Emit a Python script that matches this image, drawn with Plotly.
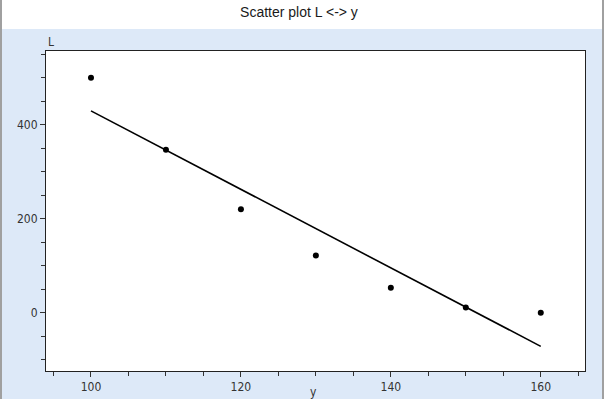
import numpy as np
import plotly.graph_objects as go

# Data
y_values = [100, 110, 120, 130, 140, 150, 160]
L_values = [500, 347, 220, 122, 53, 11, 0]

title_text = "Scatter plot L <-> y"
x_label = "y"
y_label = "L"
x_tickvals = [100, 120, 140, 160]
y_tickvals = [0, 200, 400]

# Least-squares regression line (as drawn in the chart)
slope, intercept = np.polyfit(y_values, L_values, 1)
fit_x = [min(y_values), max(y_values)]
fit_y = [slope * v + intercept for v in fit_x]

W, H = 604, 399
ml, mr, mt, mb = 46, 19, 51, 28
plot_h = H - mt - mb

fig = go.Figure()
fig.add_trace(go.Scatter(x=fit_x, y=fit_y, mode="lines",
                         line=dict(color="black", width=1.6),
                         hoverinfo="skip", showlegend=False))
fig.add_trace(go.Scatter(x=y_values, y=L_values, mode="markers",
                         marker=dict(color="black", size=6),
                         showlegend=False))

tickfont = dict(family="Liberation Sans Narrow, DejaVu Sans Condensed, Arial", size=12, color="#333333")

fig.update_layout(
    width=W, height=H,
    margin=dict(l=ml, r=mr, t=mt, b=mb, pad=0, autoexpand=False),
    paper_bgcolor="#dde9f8",
    plot_bgcolor="white",
    title=dict(text=title_text, x=0.495, xanchor="center", y=1 - 12 / H, yanchor="middle",
               font=dict(family="Liberation Sans, Arial", size=14, color="#1a1a1a")),
    xaxis=dict(range=[94.0, 165.9], tickvals=x_tickvals, ticks="outside", ticklen=5,
               tickcolor="#333333", showgrid=False, zeroline=False, automargin=False,
               showline=True, linecolor="#222222", linewidth=1, mirror=True,
               tickfont=tickfont,
               minor=dict(dtick=5, tick0=0, ticks="outside", ticklen=4, tickcolor="#333333")),
    yaxis=dict(range=[-124, 557], tickvals=y_tickvals, ticks="outside", ticklen=5,
               tickcolor="#333333", showgrid=False, zeroline=False, automargin=False,
               showline=True, linecolor="#222222", linewidth=1, mirror=True,
               tickfont=tickfont,
               minor=dict(dtick=50, tick0=0, ticks="outside", ticklen=4, tickcolor="#333333")),
    shapes=[
        dict(type="rect", xref="paper", yref="paper",
             x0=-ml / (W - ml - mr), x1=1 + mr / (W - ml - mr),
             y0=1 + (mt - 29) / plot_h, y1=1 + mt / plot_h + 0.01,
             fillcolor="white", line=dict(width=0), layer="below"),
        dict(type="line", xref="paper", yref="paper",
             x0=-(ml - 1) / (W - ml - mr), x1=-(ml - 1) / (W - ml - mr),
             y0=-mb / plot_h, y1=1 + mt / plot_h,
             line=dict(color="#a0a0a0", width=2)),
        dict(type="line", xref="paper", yref="paper",
             x0=1 + (mr - 1) / (W - ml - mr), x1=1 + (mr - 1) / (W - ml - mr),
             y0=-mb / plot_h, y1=1 + mt / plot_h,
             line=dict(color="#a0a0a0", width=2)),
    ],
    annotations=[
        dict(text=y_label, xref="paper", yref="paper", x=0, y=1, xanchor="left", yanchor="bottom",
             xshift=0, yshift=0, showarrow=False, font=tickfont),
        dict(text=x_label, xref="paper", yref="paper", x=0.497, y=0, xanchor="center", yanchor="top",
             yshift=-12, showarrow=False, font=tickfont),
    ],
)

fig.write_html("out.html")
